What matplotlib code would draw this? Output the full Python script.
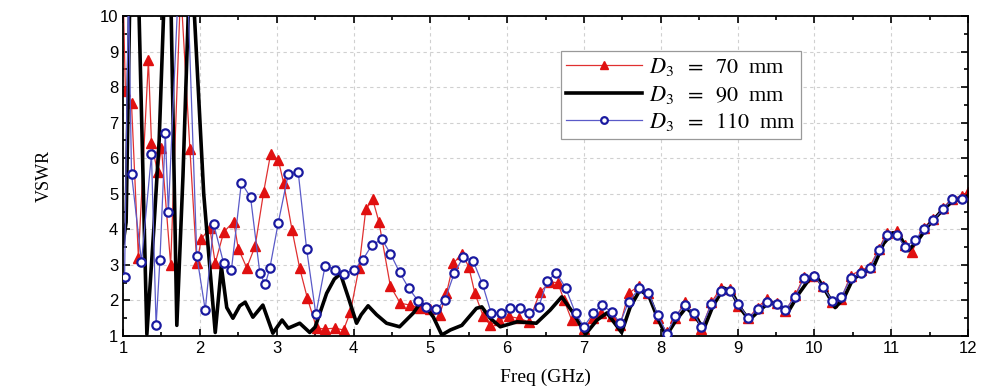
import matplotlib
matplotlib.use("Agg")
import matplotlib.pyplot as plt
from matplotlib.ticker import MultipleLocator

# VSWR vs frequency for three values of D3
red_f = [1.00, 1.03, 1.11, 1.20, 1.33, 1.37, 1.45, 1.50, 1.62, 1.75, 1.87, 1.96,
         2.02, 2.13, 2.20, 2.31, 2.44, 2.50, 2.61, 2.72, 2.83, 2.92, 3.02, 3.09,
         3.20, 3.30, 3.40, 3.52, 3.63, 3.76, 3.87, 3.96, 4.07, 4.16, 4.25, 4.33,
         4.48, 4.61, 4.74, 4.87, 5.00, 5.12, 5.21, 5.30, 5.41, 5.50, 5.58, 5.69,
         5.78, 5.90, 6.02, 6.15, 6.28, 6.43, 6.56, 6.66, 6.74, 6.84, 7.00, 7.12,
         7.22, 7.36, 7.47, 7.58, 7.72, 7.84, 7.96, 8.08, 8.19, 8.31, 8.43, 8.53,
         8.66, 8.78, 8.90, 9.01, 9.14, 9.26, 9.38, 9.51, 9.62, 9.75, 9.86, 9.99,
         10.11, 10.23, 10.35, 10.47, 10.60, 10.72, 10.84, 10.94, 11.07, 11.18,
         11.27, 11.42, 11.55, 11.67, 11.79, 11.92, 12.00]
red_v = [10.8, 7.9, 7.54, 3.2, 8.75, 6.43, 5.6, 6.3, 3.0, 10.8, 6.27, 3.04,
         3.74, 4.03, 3.05, 3.92, 4.22, 3.46, 2.92, 3.53, 5.05, 6.11, 5.96, 5.31,
         3.98, 2.90, 2.06, 1.22, 1.20, 1.22, 1.17, 1.68, 2.90, 4.56, 4.84, 4.22,
         2.40, 1.92, 1.87, 1.78, 1.75, 1.60, 2.20, 3.04, 3.32, 2.95, 2.20, 1.55,
         1.31, 1.45, 1.55, 1.50, 1.40, 2.24, 2.52, 2.50, 2.01, 1.45, 1.20, 1.50,
         1.65, 1.55, 1.30, 2.20, 2.42, 2.20, 1.50, 1.10, 1.50, 1.95, 1.60, 1.20,
         1.95, 2.35, 2.32, 1.85, 1.50, 1.80, 2.05, 1.92, 1.70, 2.15, 2.65, 2.70,
         2.40, 1.95, 2.05, 2.70, 2.85, 2.95, 3.45, 3.90, 3.95, 3.55,
         3.37, 4.05, 4.30, 4.60, 4.85, 4.95, 5.05]

black_f = [1.00, 1.04, 1.09, 1.20, 1.31, 1.40, 1.47, 1.54, 1.62, 1.70, 1.78, 1.86,
           1.92, 2.05, 2.20, 2.28, 2.35, 2.43, 2.52, 2.59, 2.69, 2.82, 2.95, 3.07,
           3.15, 3.30, 3.43, 3.50, 3.65, 3.75, 3.83, 3.93, 4.04, 4.10, 4.19, 4.30,
           4.43, 4.60, 4.78, 4.87, 4.95, 5.04, 5.15, 5.26, 5.41, 5.60, 5.67, 5.78,
           5.91, 6.13, 6.38, 6.56, 6.71, 6.86, 7.02, 7.17, 7.30, 7.49, 7.60, 7.73,
           7.85, 7.96, 8.07, 8.20, 8.33, 8.45, 8.56, 8.68, 8.82, 8.92, 9.03, 9.15,
           9.30, 9.42, 9.55, 9.65, 9.80, 9.95, 10.05, 10.15, 10.27, 10.38, 10.50,
           10.65, 10.78, 10.90, 11.02, 11.10, 11.22, 11.35, 11.50, 11.65, 11.80,
           11.95, 12.00]
black_v = [3.6, 4.2, 10.8, 10.8, 1.05, 4.0, 6.5, 10.8, 10.8, 1.3, 5.5, 10.8,
           10.4, 5.0, 1.10, 2.95, 1.80, 1.50, 1.85, 1.95, 1.53, 1.87, 1.08, 1.45,
           1.22, 1.36, 1.10, 1.25, 2.20, 2.60, 2.75, 2.10, 1.36, 1.60, 1.85, 1.60,
           1.36, 1.26, 1.65, 1.93, 1.80, 1.53, 1.03, 1.17, 1.30, 1.78, 1.82, 1.50,
           1.26, 1.40, 1.36, 1.73, 2.10, 1.65, 1.05, 1.45, 1.65, 1.10, 1.80, 2.30,
           2.10, 1.50, 1.00, 1.45, 1.80, 1.55, 1.20, 1.85, 2.35, 2.25, 1.80, 1.45,
           1.75, 1.95, 1.85, 1.65, 2.20, 2.65, 2.60, 2.25, 1.80, 2.05, 2.60,
           2.80, 3.00, 3.60, 3.90, 3.85, 3.40, 3.70, 4.15, 4.50, 4.80,
           4.90, 4.95]

blue_f = [1.02, 1.07, 1.11, 1.24, 1.37, 1.43, 1.48, 1.55, 1.59, 1.72, 1.84, 1.96,
          2.07, 2.18, 2.31, 2.41, 2.54, 2.66, 2.78, 2.85, 2.91, 3.02, 3.15, 3.28,
          3.39, 3.51, 3.63, 3.76, 3.87, 4.00, 4.12, 4.24, 4.37, 4.48, 4.60, 4.72,
          4.84, 4.95, 5.08, 5.19, 5.31, 5.43, 5.56, 5.68, 5.79, 5.92, 6.04, 6.17,
          6.29, 6.41, 6.52, 6.64, 6.76, 6.89, 7.00, 7.12, 7.23, 7.36, 7.47, 7.58,
          7.72, 7.84, 7.96, 8.08, 8.19, 8.31, 8.43, 8.53, 8.66, 8.78, 8.90, 9.01,
          9.14, 9.26, 9.38, 9.51, 9.62, 9.75, 9.86, 9.99, 10.11, 10.23, 10.35,
          10.47, 10.60, 10.72, 10.84, 10.94, 11.07, 11.18, 11.31, 11.42, 11.55,
          11.67, 11.79, 11.92]
blue_v = [2.67, 10.8, 5.57, 3.09, 6.11, 1.30, 3.13, 6.70, 4.49, 10.8, 10.8, 3.25,
          1.73, 4.15, 3.04, 2.85, 5.31, 4.90, 2.78, 2.45, 2.90, 4.18, 5.55, 5.61,
          3.44, 1.61, 2.97, 2.87, 2.74, 2.85, 3.14, 3.56, 3.72, 3.32, 2.79, 2.34,
          1.99, 1.81, 1.75, 2.01, 2.76, 3.23, 3.10, 2.45, 1.66, 1.64, 1.78, 1.78,
          1.64, 1.81, 2.54, 2.78, 2.36, 1.64, 1.26, 1.64, 1.87, 1.68, 1.36, 1.96,
          2.34, 2.22, 1.59, 1.06, 1.56, 1.87, 1.64, 1.24, 1.90, 2.27, 2.27, 1.90,
          1.50, 1.75, 1.96, 1.89, 1.73, 2.10, 2.62, 2.69, 2.39, 1.99, 2.10,
          2.62, 2.76, 2.90, 3.42, 3.84, 3.84, 3.51, 3.70, 4.00, 4.26,
          4.56, 4.84, 4.84]

labels = [r"$D_3\ \;=\ \;70\ $ mm", r"$D_3\ \;=\ \;90\ $ mm",
          r"$D_3\ \;=\ \;110\ $ mm"]

plt.rcParams["mathtext.fontset"] = "stix"

fig = plt.figure(figsize=(9.86, 3.89), dpi=100)
ax = fig.add_axes([0.1248, 0.1362, 0.8570, 0.8227])

ax.plot(red_f, red_v, color="#e03030", lw=0.9, marker="^", ms=6.5,
        mfc="#e01010", mec="#e01010", label=labels[0], zorder=2)
ax.plot(black_f, black_v, color="black", lw=2.6, label=labels[1], zorder=3)
ax.plot(blue_f, blue_v, color="#5a5ac8", lw=0.9, marker="o", ms=6,
        mfc="white", mec="#1a1aa0", mew=1.6, label=labels[2], zorder=4)

ax.set_xlim(1, 12)
ax.set_ylim(1, 10)
ax.xaxis.set_major_locator(MultipleLocator(1))
ax.xaxis.set_minor_locator(MultipleLocator(0.5))
ax.yaxis.set_major_locator(MultipleLocator(1))
ax.yaxis.set_minor_locator(MultipleLocator(0.5))
ax.tick_params(which="both", direction="in", top=True, right=True,
               labelsize=12, width=1.2)
ax.tick_params(which="major", length=5)
ax.tick_params(which="minor", length=3)
for lab in ax.get_xticklabels() + ax.get_yticklabels():
    lab.set_family("Liberation Sans")
for sp in ax.spines.values():
    sp.set_linewidth(1.3)

ax.grid(True, which="major", ls=(0, (3, 3)), color="#d0d0d0", lw=0.8)

ax.set_xlabel("Freq (GHz)", family="Liberation Serif", fontsize=14, labelpad=9)
ax.set_ylabel("VSWR", family="Liberation Serif", fontsize=13, labelpad=34)

leg = ax.legend(loc="upper left", bbox_to_anchor=(0.518, 0.892),
                prop={"family": "Liberation Serif", "size": 16},
                handlelength=3.4, handletextpad=0.3, labelspacing=0.25,
                borderpad=0.25, borderaxespad=0, fancybox=False, framealpha=1,
                edgecolor="#999999", markerscale=0.8, numpoints=1)
leg.get_frame().set_linewidth(0.9)

fig.savefig("out.png", dpi=100)
